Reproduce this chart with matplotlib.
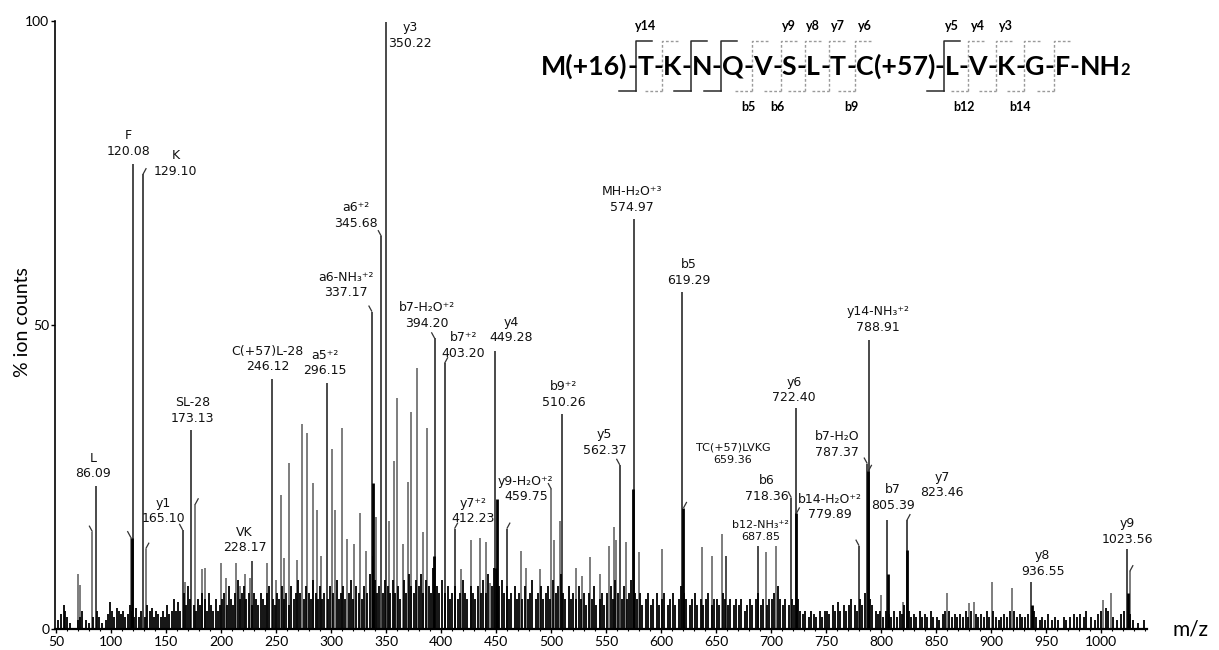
import matplotlib
matplotlib.use("Agg")
import matplotlib.pyplot as plt
from matplotlib.ticker import MultipleLocator

# ---------------------------------------------------------------------------
# DATA (m/z, % ion counts)
# ---------------------------------------------------------------------------

# annotated fragment peaks
PEAK_MZ = [86.09, 120.08, 129.10, 165.10, 173.13, 228.17, 246.12, 296.15,
           337.17, 345.68, 350.22, 394.20, 403.20, 412.23, 449.28, 459.75,
           510.26, 562.37, 574.97, 619.29, 659.36, 687.85, 718.36, 722.40,
           779.89, 787.37, 788.91, 805.39, 823.46, 936.55, 1023.56]
PEAK_INT = [23.5, 76.5, 74.8, 16.3, 32.8, 11.2, 41.2, 40.4,
            52.2, 64.6, 99.8, 47.8, 43.7, 16.5, 45.8, 16.5,
            35.4, 27.0, 67.5, 55.5, 12.0, 13.7, 21.6, 36.4,
            13.7, 27.2, 47.5, 17.9, 17.9, 7.8, 13.2]

# label text for the annotated peaks (same order)
PEAK_NAMES = ["L", "F", "K", "y1", "SL-28", "VK", "C(+57)L-28", "a5⁺²",
              "a6-NH₃⁺²", "a6⁺²", "y3", "b7-H₂O⁺²", "b7⁺²", "y7⁺²", "y4",
              "y9-H₂O⁺²", "b9⁺²", "y5", "MH-H₂O⁺³", "b5", "TC(+57)LVKG",
              "b12-NH₃⁺²", "b6", "y6", "b14-H₂O⁺²", "b7-H₂O", "y14-NH₃⁺²",
              "b7", "y7", "y8", "y9"]
PEAK_VALUES = ["86.09", "120.08", "129.10", "165.10", "173.13", "228.17",
               "246.12", "296.15", "337.17", "345.68", "350.22", "394.20",
               "403.20", "412.23", "449.28", "459.75", "510.26", "562.37",
               "574.97", "619.29", "659.36", "687.85", "718.36", "722.40",
               "779.89", "787.37", "788.91", "805.39", "823.46", "936.55",
               "1023.56"]

# unannotated medium peaks
MID_MZ = [69.8, 71.4, 83.1, 117.9, 131.6, 166.9, 176.5, 182.3, 185.4, 200.2,
          204.8, 214.0, 217.0, 221.4, 226.3, 241.4, 249.7, 254.2, 257.1, 261.6,
          269.0, 273.5, 278.5, 283.6, 286.9, 291.3, 300.8, 303.8, 309.8, 314.5,
          321.0, 326.4, 331.5, 341.0, 352.3, 356.8, 360.3, 365.7, 370.1, 373.1,
          378.5, 383.5, 387.5, 418.4, 427.5, 435.6, 441.1, 444.7, 472.9, 477.5,
          490.2, 500.2, 502.3, 507.7, 522.3, 528.4, 535.0, 544.7, 552.9, 556.9,
          559.0, 568.0, 580.2, 601.1, 637.5, 646.6, 655.6, 695.0, 704.0, 800.2,
          819.4, 860.0, 880.0, 884.0, 900.7, 919.0, 1002.0, 1009.0, 1026.0]
MID_INT = [9.0, 7.3, 16.0, 15.1, 13.2, 7.8, 20.5, 9.8, 10.1, 10.9,
           8.4, 10.8, 7.0, 9.0, 8.4, 10.8, 8.0, 22.0, 11.7, 27.3,
           11.4, 33.7, 32.3, 24.0, 19.5, 12.0, 29.6, 19.5, 33.0, 14.8,
           14.0, 19.0, 12.8, 18.5, 17.8, 27.6, 38.0, 14.0, 24.2, 35.7,
           43.0, 16.0, 33.0, 9.8, 14.6, 14.9, 14.3, 7.6, 12.9, 10.0,
           9.8, 23.0, 14.6, 17.7, 10.0, 8.7, 11.8, 9.0, 13.7, 16.8,
           14.6, 14.3, 12.6, 13.2, 13.5, 12.0, 15.7, 12.6, 13.7, 5.6,
           4.5, 5.9, 4.2, 4.5, 7.8, 6.7, 4.8, 5.9, 9.5]

# thick dark bases under some of the big peaks
BASE_MZ = [119.5, 338.3, 393.6, 449.8, 450.8, 574.6, 620.3, 722.9, 788.4,
           805.9, 823.9, 936.9, 1023.9]
BASE_INT = [15.0, 24.0, 12.0, 10.0, 21.3, 23.0, 19.9, 19.0, 26.0,
            9.0, 13.0, 4.0, 6.0]

# peaks carrying a small annotation hook, and which way the hook leans
HOOK_MZ = [83.1, 117.9, 129.10, 131.6, 165.10, 176.5, 337.17, 345.68, 394.20,
           403.20, 412.23, 459.75, 500.2, 562.37, 620.3, 718.36, 722.9, 779.89,
           787.37, 788.4, 823.46, 1026.0]
HOOK_DIR = [-1, -1, 1, 1, -1, 1, -1, -1, -1,
            1, 1, 1, -1, -1, 1, -1, 1, -1,
            -1, 1, 1, 1]

# baseline noise forest
NOISE_MZ = [52, 55, 57, 58, 60, 63, 70, 72, 74, 77, 80, 84, 87, 89, 92, 95, 97, 99,
            101, 103, 105, 107, 109, 111, 113, 115, 117, 119, 121, 123, 125, 127,
            131, 133, 135, 137, 139, 141, 143, 145, 147, 149,
            151, 153, 155, 157, 159, 161, 163, 166, 168, 170, 172, 175, 177, 179,
            181, 183, 185, 187, 189, 191, 193, 195, 197, 199,
            201, 203, 205, 207, 209, 211, 213, 215, 217, 219, 221, 223, 225, 228,
            230, 232, 234, 236, 238, 240, 242, 244, 247, 249,
            251, 253, 255, 257, 259, 262, 264, 266, 268, 270, 272, 275, 277, 280,
            282, 284, 286, 288, 290, 292, 294, 297, 299,
            302, 305, 307, 309, 311, 313, 316, 318, 320, 323, 325, 328, 330, 333,
            335, 338, 340, 342, 344, 347, 349,
            352, 354, 356, 358, 361, 363, 366, 368, 371, 373, 375, 377, 380, 382,
            384, 386, 389, 391, 393, 396, 398,
            401, 404, 406, 408, 410, 413, 415, 417, 420, 422, 424, 427, 429, 431,
            434, 436, 438, 441, 443, 446, 448,
            451, 453, 455, 457, 460, 462, 464, 467, 469, 471, 474, 476, 479, 481,
            483, 486, 488, 491, 493, 495, 497, 499,
            502, 504, 506, 509, 511, 513, 516, 518, 520, 523, 525, 527, 530, 532,
            534, 537, 539, 541, 544, 546, 548,
            551, 554, 556, 558, 561, 564, 566, 569, 571, 573, 576, 578, 581, 583,
            586, 588, 591, 593, 596, 598,
            601, 603, 606, 608, 611, 613, 616, 618, 621, 623, 626, 628, 631, 633,
            636, 638, 641, 643, 646, 648,
            651, 653, 656, 658, 661, 663, 666, 668, 671, 673, 676, 678, 681, 683,
            686, 688, 691, 693, 696, 698,
            701, 703, 706, 708, 711, 713, 716, 719, 721, 724, 726, 729, 731, 734,
            736, 739, 741, 744, 746, 749,
            751, 753, 756, 758, 761, 763, 766, 768, 771, 773, 776, 778, 781, 783,
            785, 790, 792, 795, 797, 799,
            802, 804, 807, 809, 812, 814, 817, 819, 821, 825, 827, 830, 832, 835,
            837, 840, 842, 845, 847,
            851, 853, 856, 858, 862, 864, 867, 869, 872, 874, 877, 879, 882, 886,
            888, 891, 893, 896, 898,
            902, 904, 907, 909, 912, 914, 917, 921, 923, 926, 928, 931, 933, 939,
            941, 944, 946, 949,
            952, 955, 958, 961, 966, 968, 972, 975, 978, 981, 984, 986, 991, 994,
            997, 1000, 1004, 1006, 1011, 1014, 1018, 1021, 1026, 1029, 1033, 1039]
NOISE_INT = [1.5, 2.5, 4, 3, 2, 1, 1.5, 2, 3, 1.5, 1, 2, 3, 2, 1, 1.5, 2.5, 4.5,
             3, 2, 3.5, 3, 2.5, 3, 2, 2.5, 4, 3, 2, 3.5, 2, 3,
             2, 4, 3, 3.5, 2, 3, 2.5, 2, 3, 2,
             4, 2.5, 3, 5, 3, 4.5, 3, 6, 4, 7, 5, 4, 3, 5,
             4, 6, 5, 3, 6, 4, 3, 5, 3, 4,
             5, 6, 4, 7, 5, 4, 6, 8, 5, 6, 7, 5, 6, 4,
             6, 5, 4, 6, 5, 4, 6, 7, 5, 4,
             6, 5, 7, 5, 6, 4, 7, 5, 6, 8, 6, 5, 7, 6,
             5, 8, 6, 5, 7, 5, 6, 5, 7,
             6, 8, 5, 6, 7, 5, 6, 8, 5, 7, 6, 5, 7, 6,
             9, 12, 8, 6, 7, 6, 8,
             7, 6, 8, 6, 7, 5, 8, 6, 9, 7, 6, 8, 7, 9,
             6, 8, 7, 6, 10, 7, 6,
             8, 6, 7, 5, 6, 7, 5, 6, 8, 6, 5, 7, 6, 5,
             7, 6, 8, 6, 9, 7, 10,
             9, 7, 8, 6, 7, 5, 6, 7, 5, 6, 5, 7, 5, 6,
             8, 5, 6, 7, 5, 6, 7, 5,
             8, 6, 7, 9, 6, 5, 7, 5, 6, 5, 7, 5, 6, 4,
             6, 5, 7, 4, 5, 6, 4,
             6, 7, 5, 8, 6, 5, 7, 5, 6, 8, 6, 5, 6, 4,
             5, 6, 4, 5, 6, 4,
             5, 6, 4, 5, 6, 4, 5, 7, 6, 5, 4, 5, 6, 4,
             5, 4, 5, 6, 4, 5,
             5, 4, 6, 5, 4, 5, 4, 5, 4, 5, 3, 4, 5, 4,
             5, 6, 4, 5, 4, 5,
             5, 6, 7, 5, 4, 5, 4, 5, 4, 5, 3, 2.5, 3, 2,
             3, 2.5, 2, 3, 2, 3,
             3, 2.5, 4, 3, 4.5, 3, 4, 3, 4, 5, 4, 3, 5, 4,
             6, 5, 4, 3, 2.5, 3,
             2, 3, 2.5, 2, 3, 2, 3, 2.5, 4, 3, 2, 2.5, 2, 3,
             2, 2.5, 2, 3, 2,
             2, 1.5, 2.5, 3, 3, 2, 2.5, 2, 2.5, 2, 3, 2, 3, 2.5,
             2, 2.5, 2, 3, 2,
             3, 2, 1.5, 2, 2.5, 2, 3, 3, 2, 2.5, 2, 2, 2.5, 3,
             2, 1.5, 2, 1.5,
             2.5, 1.5, 2, 1.5, 2, 1.5, 2, 2.5, 2, 2.5, 2, 3, 2, 1.5,
             2.5, 3, 3.5, 3, 2, 1.5, 2.5, 3, 2.5, 1.5, 1, 1.4]

# label placement (block centre in m/z, block bottom in %)
LABEL_X = [84.0, 115.5, 159.0, 147.8, 174.0, 221.4, 242.2, 294.3,
           313.6, 322.6, 371.6, 386.8, 420.5, 428.7, 463.5, 477.1,
           511.4, 548.6, 573.5, 625.3, 665.3, 690.2, 695.6, 720.8,
           753.2, 759.9, 797.0, 810.9, 855.3, 946.7, 1024.1]
LABEL_Y = [24.5, 77.5, 74.2, 17.1, 33.6, 12.3, 42.1, 41.4,
           54.2, 65.7, 95.3, 49.2, 44.3, 17.1, 46.8, 20.7,
           36.2, 28.3, 68.3, 56.3, 27.0, 14.3, 20.8, 37.0,
           17.7, 28.0, 48.6, 19.3, 21.3, 8.4, 13.7]
SMALL_LABELS = ["TC(+57)LVKG", "b12-NH₃⁺²"]

# peptide sequence and fragment markers
SEQ_TOKENS = ["M(+16)", "-", "T", "-", "K", "-", "N", "-", "Q", "-", "V", "-",
              "S", "-", "L", "-", "T", "-", "C", "(+57)", "-", "L", "-", "V",
              "-", "K", "-", "G", "-", "F", "-", "NH", "2"]
TOP_FRAGS = [("y14", 0), ("y9", 5), ("y8", 6), ("y7", 7), ("y6", 8),
             ("y5", 9), ("y4", 10), ("y3", 11)]
BOTTOM_FRAGS = [("b5", 4), ("b6", 5), ("b9", 8), ("b12", 10), ("b14", 12)]
SOLID_SITES = [0, 2, 3, 9]

W, H = 1219, 650
fig = plt.figure(figsize=(W / 100, H / 100), dpi=100)
ax = fig.add_axes([55 / W, (H - 629) / H, 1092 / W, 608 / H])

ax.vlines(MID_MZ, 0, MID_INT, color="#5a5a5a", lw=1.1)
ax.vlines(PEAK_MZ, 0, PEAK_INT, color="#3c3c3c", lw=1.3)
ax.vlines(NOISE_MZ, 0, NOISE_INT, color="black", lw=1.3)
ax.vlines(BASE_MZ, 0, BASE_INT, color="black", lw=2.0)

# small leader hooks on annotated peaks
height_of = dict(zip(MID_MZ + BASE_MZ + PEAK_MZ, MID_INT + BASE_INT + PEAK_INT))
for mz, d in zip(HOOK_MZ, HOOK_DIR):
    h = height_of[mz]
    ax.plot([mz, mz + d * 3.0], [h, h + 1.0], color="#333333", lw=0.9,
            solid_capstyle="butt")

for name, val, lx, ly in zip(PEAK_NAMES, PEAK_VALUES, LABEL_X, LABEL_Y):
    fs = 8 if name in SMALL_LABELS else 9
    ax.text(lx, ly, name + "\n" + val, ha="center", va="bottom", fontsize=fs,
            linespacing=1.25, family="DejaVu Sans", color="#111111")

ax.set_xlim(49.1, 1041.6)
ax.set_ylim(0, 100)
ax.set_xticks(range(50, 1001, 50))
ax.xaxis.set_minor_locator(MultipleLocator(10))
ax.set_yticks([0, 50, 100])
for s in ("top", "right"):
    ax.spines[s].set_visible(False)
ax.spines["bottom"].set_linewidth(1.6)
ax.spines["left"].set_linewidth(1.2)
ax.tick_params(axis="x", which="major", length=3, width=1, pad=2, labelsize=10)
ax.tick_params(axis="x", which="minor", length=1.5, width=0.8)
ax.tick_params(axis="y", length=3, width=1, pad=1, labelsize=10)
for lab in ax.get_xticklabels() + ax.get_yticklabels():
    lab.set_family("Lato")

fig.text(22 / W, 1 - 322 / H, "% ion counts", rotation=90, ha="center",
         va="center", fontsize=14, family="Lato")
fig.text(1190 / W, 1 - 630 / H, "m/z", ha="center", va="center",
         fontsize=15, family="Lato")

# --- sequence with fragmentation brackets --------------------------------
renderer = fig.canvas.get_renderer()
SEQ_LEFT, SEQ_RIGHT, SEQ_BASE = 541, 1133, 75


def draw_sequence(fs):
    x = SEQ_LEFT
    items = []
    for tok in SEQ_TOKENS:
        size = fs * 0.62 if tok == "2" else fs
        t = fig.text(x / W, 1 - SEQ_BASE / H, tok, fontsize=size,
                     fontweight="bold", family="Lato", va="baseline", ha="left")
        w = t.get_window_extent(renderer=renderer).width
        items.append((t, x, w))
        x += w
    return items, x


items, end = draw_sequence(20)
for t, _, _ in items:
    t.remove()
fs = 20 * (SEQ_RIGHT - SEQ_LEFT) / (end - SEQ_LEFT)
items, end = draw_sequence(fs)

dash_idx = [i for i, tok in enumerate(SEQ_TOKENS) if tok == "-"][:14]
y_top, y_bot = 41, 91
for k, i in enumerate(dash_idx):
    _, dx, dw = items[i]
    xv = dx + dw - 1
    if k in SOLID_SITES:
        kw = dict(color="#2a2a2a", lw=1.1, ls="-")
    else:
        kw = dict(color="#9a9a9a", lw=1.0, ls=(0, (2, 1.5)))
    fig.add_artist(plt.Line2D([xv / W, xv / W, (xv + 16) / W],
                              [1 - y_bot / H, 1 - y_top / H, 1 - y_top / H], **kw))
    fig.add_artist(plt.Line2D([(xv - 17) / W, xv / W],
                              [1 - y_bot / H, 1 - y_bot / H], **kw))

for lab, k in TOP_FRAGS:
    _, rx, rw = items[dash_idx[k] + 1]
    fig.text((rx + rw / 2) / W, 1 - 26 / H, lab, ha="center", va="center",
             fontsize=9, fontweight="bold", family="Lato")
for lab, k in BOTTOM_FRAGS:
    _, dx, dw = items[dash_idx[k]]
    fig.text((dx + dw / 2) / W, 1 - 107 / H, lab, ha="center", va="center",
             fontsize=9, fontweight="bold", family="Lato")

fig.savefig("out.png", dpi=100)
